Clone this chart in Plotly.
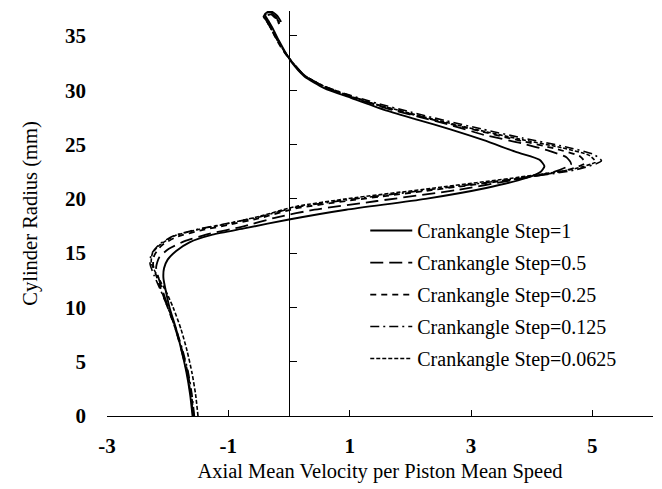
import plotly.graph_objects as go

# Radial profiles of axial mean velocity (normalised by piston mean speed)
radius_s1 = [0, 2, 4, 6, 8, 10, 11.5, 12.7, 13.6, 14.4, 15.2, 16.0, 16.7, 17.3, 18.1, 19.0, 20.0, 21.0,
             21.9, 22.5, 23.0, 23.6, 24.3, 25.4, 26.4, 27.3, 28.2, 29.3, 30.2, 31.3, 32.6, 33.6, 34.6,
             35.6, 36.4, 37.0, 37.3, 36.9, 36.3]
vel_s1 = [-1.59, -1.63, -1.69, -1.77, -1.86, -1.97, -2.03, -2.07, -2.06, -2.00, -1.86, -1.64, -1.26,
          -0.72, 0.0, 0.94, 2.25, 3.25, 3.90, 4.15, 4.21, 4.13, 3.75, 3.21, 2.66, 2.11, 1.57, 1.02,
          0.58, 0.25, 0.04, -0.07, -0.17, -0.26, -0.34, -0.40, -0.31, -0.20, -0.13]

radius_s2 = [0, 2, 4, 6, 8, 10, 11.5, 12.7, 13.7, 14.6, 15.4, 16.1, 16.8, 17.4, 18.3, 19.0, 19.8, 20.8,
             21.8, 22.5, 23.2, 23.8, 24.4, 25.1, 25.9, 26.8, 27.6, 28.4, 29.4, 30.3, 31.4, 32.7, 33.6,
             34.6, 35.6, 36.4, 36.9, 37.2, 36.8, 36.2]
vel_s2 = [-1.58, -1.62, -1.68, -1.77, -1.87, -1.99, -2.08, -2.15, -2.19, -2.14, -1.98, -1.72, -1.30,
          -0.80, -0.20, 0.42, 1.45, 2.75, 3.75, 4.38, 4.65, 4.58, 4.30, 3.85, 3.21, 2.66, 2.11, 1.57,
          1.02, 0.58, 0.25, 0.04, -0.08, -0.18, -0.27, -0.35, -0.41, -0.32, -0.22, -0.15]

radius_s3 = [0, 2, 4, 6, 8, 10, 11.5, 12.8, 13.9, 14.8, 15.7, 16.5, 17.1, 17.6, 18.2, 19.1, 19.8, 20.8,
             21.8, 22.6, 23.3, 23.9, 24.6, 25.5, 26.3, 27.1, 27.9, 28.7, 29.6, 30.4, 31.4, 32.7, 33.6,
             34.5, 35.5, 36.3, 36.8, 37.1, 36.7, 36.1]
vel_s3 = [-1.57, -1.61, -1.67, -1.76, -1.87, -2.00, -2.10, -2.18, -2.24, -2.22, -2.10, -1.85, -1.45,
          -1.00, -0.50, 0.10, 0.94, 2.35, 3.70, 4.55, 4.88, 4.80, 4.40, 3.70, 3.10, 2.50, 1.95, 1.42,
          0.95, 0.56, 0.24, 0.03, -0.09, -0.19, -0.28, -0.36, -0.42, -0.33, -0.23, -0.16]

radius_s4 = [0, 2, 4, 6, 8, 10, 11.5, 12.9, 14.0, 14.9, 15.8, 16.6, 17.2, 17.7, 18.3, 19.2, 19.9, 20.9,
             21.9, 22.7, 23.5, 24.1, 24.8, 25.6, 26.4, 27.2, 28.0, 28.8, 29.6, 30.4, 31.4, 32.7, 33.6,
             34.5, 35.4, 36.2, 36.7, 37.0, 36.6, 36.0]
vel_s4 = [-1.56, -1.60, -1.66, -1.75, -1.86, -2.00, -2.11, -2.22, -2.29, -2.27, -2.14, -1.90, -1.50,
          -1.05, -0.52, 0.10, 0.95, 2.40, 3.80, 4.75, 5.15, 5.02, 4.55, 3.85, 3.20, 2.58, 2.00, 1.45,
          0.97, 0.57, 0.25, 0.04, -0.08, -0.18, -0.27, -0.35, -0.40, -0.30, -0.20, -0.13]

radius_s5 = [0, 2, 4, 6, 8, 10, 11.5, 12.9, 14.1, 15.0, 15.8, 16.6, 17.2, 17.7, 18.4, 19.3, 20.0, 21.0,
             22.0, 22.7, 23.4, 24.0, 24.7, 25.5, 26.3, 27.1, 27.9, 28.7, 29.5, 30.4, 31.4, 32.7, 33.6,
             34.5, 35.4, 36.2, 36.7, 37.0, 36.6, 36.0]
vel_s5 = [-1.50, -1.54, -1.60, -1.68, -1.78, -1.91, -2.03, -2.17, -2.27, -2.25, -2.12, -1.88, -1.48,
          -1.02, -0.48, 0.12, 0.95, 2.40, 3.80, 4.65, 5.05, 4.95, 4.50, 3.80, 3.15, 2.55, 1.98, 1.44,
          0.98, 0.57, 0.25, 0.04, -0.08, -0.18, -0.27, -0.35, -0.40, -0.31, -0.21, -0.14]

series_names = ["Crankangle Step=1", "Crankangle Step=0.5", "Crankangle Step=0.25",
                "Crankangle Step=0.125", "Crankangle Step=0.0625"]
dash_styles = ["solid", "13px,6px", "6px,5px", "9px,4px,2px,4px", "4px,2px"]
line_widths = [1.9, 1.8, 1.8, 1.6, 1.6]

x_ticks = [-3, -1, 1, 3, 5]
y_ticks = [0, 5, 10, 15, 20, 25, 30, 35]
x_range = [-3, 6]
y_range = [0, 37.3]

FONT = "Liberation Serif, Times New Roman, serif"

profiles = [(vel_s1, radius_s1), (vel_s2, radius_s2), (vel_s3, radius_s3),
            (vel_s4, radius_s4), (vel_s5, radius_s5)]

fig = go.Figure()
for i, ((vx, ry), name) in enumerate(zip(profiles, series_names)):
    fig.add_trace(go.Scatter(
        x=vx, y=ry, mode="lines", name=name, legendgroup=name,
        line=dict(color="black", width=line_widths[i], dash=dash_styles[i],
                  shape="spline", smoothing=0.6),
    ))

# carrier trace for the vertical axis drawn through x = 0
fig.add_trace(go.Scatter(x=[None], y=[None], yaxis="y2", showlegend=False, hoverinfo="skip"))

zero_pos = (0 - x_range[0]) / (x_range[1] - x_range[0])

fig.update_layout(
    width=662, height=489,
    margin=dict(l=107, r=9, t=11, b=73),
    paper_bgcolor="white", plot_bgcolor="white",
    font=dict(family=FONT, color="black"),
    xaxis=dict(
        range=x_range, tickvals=x_ticks, ticktext=[str(v) for v in x_ticks],
        showline=True, linecolor="black", linewidth=1,
        ticks="inside", ticklen=6, tickcolor="black",
        showgrid=False, zeroline=False, automargin=False,
        tickfont=dict(family=FONT, size=21, color="black", weight="bold"),
        ticklabelstandoff=11,
        title=dict(text="Axial Mean Velocity per Piston Mean Speed",
                   font=dict(family=FONT, size=20.5, color="black"), standoff=6),
    ),
    yaxis=dict(
        range=y_range, tickvals=y_ticks, ticktext=[str(v) for v in y_ticks],
        showline=False, ticks="", showgrid=False, zeroline=False, automargin=False,
        tickfont=dict(family=FONT, size=21, color="black", weight="bold"),
        ticklabelstandoff=20,
        title=dict(text="Cylinder Radius (mm)",
                   font=dict(family=FONT, size=20.5, color="black"), standoff=21),
    ),
    yaxis2=dict(
        range=y_range, overlaying="y", anchor="free", position=zero_pos, side="left",
        showline=True, linecolor="black", linewidth=1, automargin=False,
        tickvals=y_ticks, ticks="inside", ticklen=7, tickcolor="black",
        showticklabels=False, showgrid=False, zeroline=False,
    ),
    legend=dict(
        x=0.473, y=0.506, xanchor="left", yanchor="top",
        bgcolor="rgba(0,0,0,0)", borderwidth=0,
        font=dict(family=FONT, size=20, color="black"),
        itemwidth=42, tracegroupgap=3,
    ),
    showlegend=True,
)

fig.write_html("out.html")
